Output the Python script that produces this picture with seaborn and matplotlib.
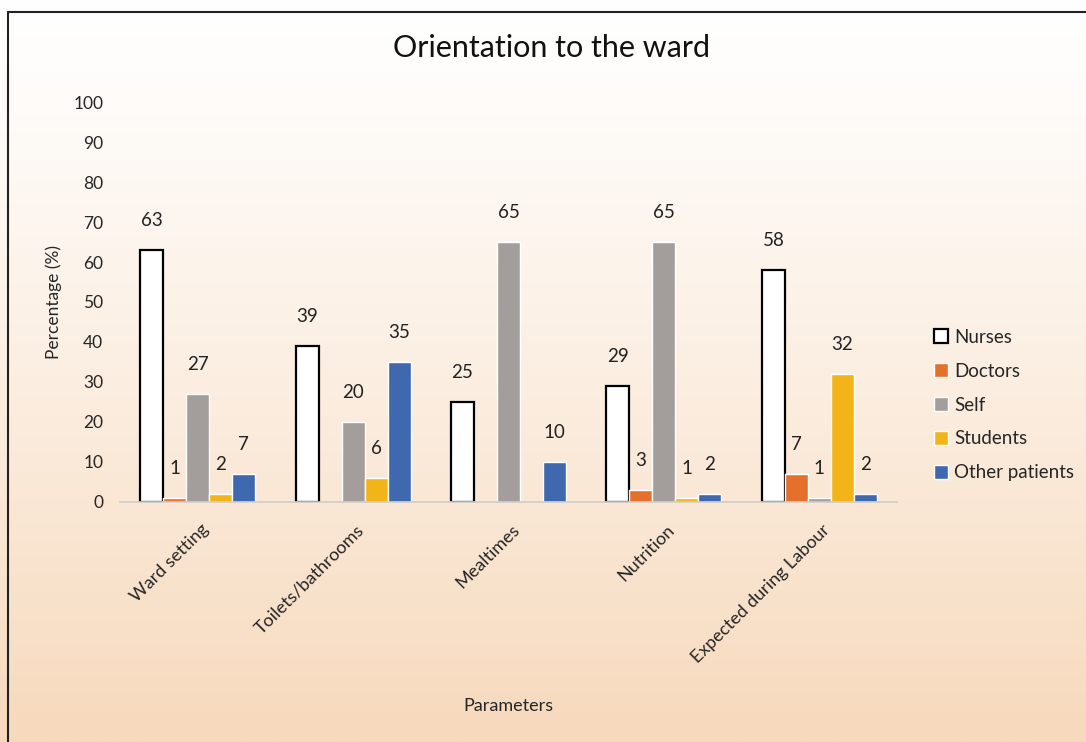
import matplotlib
matplotlib.use("Agg")
import matplotlib.pyplot as plt
from matplotlib.lines import Line2D
from matplotlib.transforms import ScaledTranslation
import seaborn as sns
import numpy as np
import pandas as pd

# data
parameters = ["Ward setting", "Toilets/bathrooms", "Mealtimes", "Nutrition", "Expected during Labour"]
sources = ["Nurses", "Doctors", "Self", "Students", "Other patients"]
nurses = [63, 39, 25, 29, 58]
doctors = [1, 0, 0, 3, 7]
self_ = [27, 20, 65, 65, 1]
students = [2, 6, 0, 1, 32]
other_patients = [7, 35, 10, 2, 2]

colors = ["#FFFFFF", "#E5702C", "#A39E9B", "#F2B418", "#4068AE"]

values = [nurses, doctors, self_, students, other_patients]
rows = []
for src, vals in zip(sources, values):
    for p, v in zip(parameters, vals):
        rows.append({"Parameters": p, "Source": src, "Percentage": v})
df = pd.DataFrame(rows)

sns.set_style("white")
plt.rcParams["font.family"] = ["Lato", "DejaVu Sans"]

fig = plt.figure(figsize=(10.86, 7.42), dpi=100)

# gradient background
bg = fig.add_axes([0, 0, 1, 1], zorder=-5)
top = np.array([255, 255, 255]) / 255
bottom = np.array([247, 217, 188]) / 255
t = np.linspace(0, 1, 256)[:, None] ** 1.2
grad = top[None, :] * (1 - t) + bottom[None, :] * t
bg.imshow(grad[:, None, :], aspect="auto", extent=[0, 1, 0, 1])
bg.axis("off")

# frame lines (top and left)
fig.add_artist(Line2D([0.0075, 1.0], [0.984, 0.984], color="#222222", lw=1.5, transform=fig.transFigure))
fig.add_artist(Line2D([0.0075, 0.0075], [0.0, 0.984], color="#222222", lw=1.5, transform=fig.transFigure))

ax = fig.add_axes([0.1105, 0.3235, 0.7155, 0.539])
ax.set_facecolor("none")

sns.barplot(data=df, x="Parameters", y="Percentage", hue="Source", hue_order=sources,
            palette=colors, saturation=1, width=0.74, gap=0, ax=ax, legend=True)

# nurses bars: white with black edge
for patch in ax.containers[0]:
    patch.set_edgecolor("black")
    patch.set_linewidth(1.6)

for cont, vals in zip(ax.containers, values):
    labels = [f"{v}" if v > 0 else "" for v in vals]
    ax.bar_label(cont, labels=labels, padding=15, fontsize=13.5, color="#222222")

ax.set_ylim(0, 100)
ax.set_yticks(range(0, 101, 10))
ax.tick_params(axis="y", labelsize=12.5, length=0, pad=12)
ax.tick_params(axis="x", labelsize=13, length=0, pad=14)
shift = ScaledTranslation(2 / 72, 0, fig.dpi_scale_trans)
for lab in ax.get_xticklabels():
    lab.set_rotation(45)
    lab.set_ha("right")
    lab.set_rotation_mode("anchor")
    lab.set_transform(lab.get_transform() + shift)

for s in ["top", "right", "left"]:
    ax.spines[s].set_visible(False)
ax.spines["bottom"].set_color("#D0CCC8")
ax.spines["bottom"].set_linewidth(1.2)

ax.set_ylabel("Percentage (%)", fontsize=12.5, labelpad=8)
ax.set_xlabel("Parameters", fontsize=13)
ax.xaxis.set_label_coords(0.5, -0.49)

fig.text(552 / 1086, 1 - 48 / 742, "Orientation to the ward", fontsize=22,
         color="#111111", ha="center", va="center")

handles, lbls = ax.get_legend_handles_labels()
ax.get_legend().remove()
handles[0].set_edgecolor("black")
handles[0].set_linewidth(1.6)
leg = fig.legend(handles, lbls, loc="upper left", bbox_to_anchor=(0.85, 0.572),
                 fontsize=13.5, frameon=True, fancybox=False, framealpha=0,
                 edgecolor="black", handlelength=0.75, handleheight=0.75,
                 handletextpad=0.3, labelspacing=0.9, borderpad=0.6, borderaxespad=0)
leg.get_frame().set_linewidth(1.5)

fig.savefig("out.png", dpi=100)
